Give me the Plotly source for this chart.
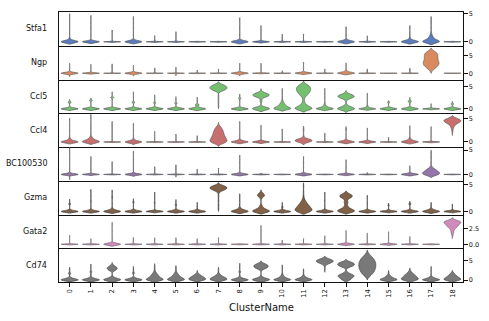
import colorsys
import plotly.graph_objects as go
from plotly.subplots import make_subplots

clusters = [str(i) for i in range(19)]
genes = ["Stfa1", "Ngp", "Ccl5", "Ccl4", "BC100530", "Gzma", "Gata2", "Cd74"]

# Each violin: (kde bandwidth, [(expression value, number of cells), ...])
stfa1 = [
    (.2, [(0, 60), (0.3, 8), (0.7, 2), (1.5, 1), (2.5, 1), (3.5, 1), (4.6, 1)]),
    (.15, [(0, 60), (0.2, 5), (1.2, 1), (2.5, 1), (3.5, 1), (4.4, 1)]),
    (.05, [(0, 60), (0.8, 1), (2.0, 1)]),
    (.18, [(0, 60), (0.3, 6), (1.2, 1), (2.4, 1), (3.4, 1), (4.15, 1)]),
    (.05, [(0, 60), (1.0, 1)]),
    (.05, [(0, 60), (0.8, 1), (1.7, 1)]),
    (.04, [(0, 60)]),
    (.04, [(0, 60)]),
    (.18, [(0, 60), (0.3, 6), (1.3, 1), (2.5, 1), (3.94, 1)]),
    (.1, [(0, 60), (0.2, 3), (1.5, 1), (2.7, 1)]),
    (.05, [(0, 60), (1.26, 1)]),
    (.05, [(0, 60), (1.3, 1)]),
    (.04, [(0, 60)]),
    (.18, [(0, 60), (0.3, 6), (1.2, 1), (2.34, 1)]),
    (.05, [(0, 60), (0.97, 1)]),
    (.04, [(0, 60)]),
    (.2, [(0, 60), (0.3, 10), (0.8, 3), (1.5, 1), (2.5, 1)]),
    (.25, [(0, 40), (0.3, 15), (0.7, 10), (1.1, 5), (1.6, 2), (2.5, 1), (3.4, 1), (4.0, 1)]),
    (.04, [(0, 60)]),
]
ngp = [
    (.2, [(0, 60), (0.3, 6), (-0.3, 4), (-0.6, 1), (1.2, 1), (2.4, 1)]),
    (.12, [(0, 60), (0.3, 4), (1.2, 1), (2.26, 1)]),
    (.05, [(0, 60), (1.2, 1), (2.5, 1)]),
    (.18, [(0, 60), (0.3, 5), (-0.3, 3), (-0.44, 1), (1.0, 1), (1.84, 1)]),
    (.05, [(0, 60), (1.4, 1)]),
    (.06, [(0, 60), (-0.58, 1), (1.58, 1)]),
    (.05, [(0, 60), (0.8, 1)]),
    (.05, [(0, 60), (1.1, 1)]),
    (.18, [(0, 60), (0.3, 5), (-0.3, 3), (-0.44, 1), (1.3, 1), (2.44, 1)]),
    (.08, [(0, 60), (0.2, 2), (1.3, 1), (2.64, 1)]),
    (.05, [(0, 60), (0.6, 1)]),
    (.18, [(0, 60), (0.3, 6), (1.5, 1), (2.74, 1)]),
    (.05, [(0, 60), (1.1, 1)]),
    (.22, [(0, 50), (0.3, 10), (0.7, 4), (1.5, 1), (2.46, 1)]),
    (.05, [(0, 60), (1.1, 1)]),
    (.04, [(0, 60)]),
    (.05, [(0, 60), (0.2, 2), (1.3, 1)]),
    (.4, [(0.8, 2), (1.3, 5), (1.8, 8), (2.3, 10), (2.8, 11), (3.3, 10), (3.8, 9), (4.3, 9),
          (4.8, 9), (5.3, 9), (5.8, 7), (6.2, 3)]),
    (.04, [(0, 60)]),
]
ccl5 = [
    (.18, [(0, 60), (0.3, 6), (1.5, 10), (1.84, 1)]),
    (.18, [(0, 60), (0.3, 6), (1.9, 9), (2.14, 1)]),
    (.18, [(0, 60), (0.3, 6), (1.0, 1), (2.6, 11), (3.54, 1)]),
    (.18, [(0, 60), (0.3, 6), (1.5, 9), (2.5, 1), (3.54, 1)]),
    (.18, [(0, 60), (0.3, 8), (1.4, 7), (2.3, 1), (2.84, 1)]),
    (.18, [(0, 60), (0.3, 6), (1.3, 8), (2.44, 1)]),
    (.2, [(0, 60), (0.3, 6), (0.9, 14), (1.8, 1), (2.3, 1)]),
    (.3, [(0.6, 1), (1.4, 1), (2.2, 1), (3.0, 1), (4.2, 10), (4.6, 15), (5.0, 15), (5.4, 10), (5.6, 2)]),
    (.18, [(0, 60), (0.3, 6), (1.0, 1), (2.4, 8), (3.04, 1)]),
    (.3, [(0, 30), (0.3, 8), (1.6, 2), (2.0, 2), (2.7, 8), (3.0, 16), (3.3, 16), (3.6, 8), (4.0, 1)]),
    (.25, [(0, 30), (0.3, 15), (0.6, 10), (0.9, 7), (1.2, 5), (1.5, 3), (1.9, 2), (2.5, 1), (3.5, 1), (4.2, 1)]),
    (.35, [(0, 25), (0.4, 12), (0.8, 6), (1.2, 3), (1.6, 2), (2.2, 2), (2.8, 4), (3.2, 7), (3.6, 10),
           (4.0, 12), (4.4, 13), (4.8, 13), (5.2, 11), (5.6, 6)]),
    (.2, [(0, 40), (0.25, 12), (0.5, 6), (0.8, 3), (1.1, 2), (1.5, 1), (2.5, 1), (3.5, 1), (4.3, 1)]),
    (.3, [(-0.2, 5), (0, 25), (0.4, 10), (0.8, 3), (1.7, 1), (2.4, 8), (2.7, 15), (3.0, 15), (3.3, 8), (3.6, 1)]),
    (.15, [(0, 60), (0.3, 8), (0.6, 4), (0.9, 2), (1.5, 1), (2.5, 1), (3.3, 1)]),
    (.18, [(0, 60), (0.3, 6), (1.5, 7)]),
    (.2, [(0, 60), (0.3, 6), (1.0, 1), (1.7, 12), (2.2, 1)]),
    (.1, [(0, 60), (0.2, 4), (0.6, 1), (1.0, 1)]),
    (.18, [(0, 60), (0.3, 6), (1.1, 8), (1.34, 1)]),
]
ccl4 = [
    (.2, [(0, 50), (0.3, 10), (0.6, 5), (0.9, 2), (1.5, 1), (2.5, 1), (3.5, 1), (4.7, 1)]),
    (.25, [(0, 40), (0.3, 15), (0.6, 8), (0.9, 4), (1.2, 2), (2.0, 1), (3.0, 1), (4.0, 1), (5.4, 1)]),
    (.05, [(0, 60), (1.0, 1), (2.5, 1), (4.3, 1)]),
    (.2, [(0, 50), (0.3, 8), (-0.2, 5), (0.7, 3), (1.5, 1), (2.5, 1), (3.6, 1)]),
    (.05, [(0, 60), (1.0, 1), (2.2, 1)]),
    (.05, [(0, 60), (1.6, 1)]),
    (.05, [(0, 60), (1.25, 1)]),
    (.3, [(-0.3, 8), (0, 14), (0.3, 14), (0.6, 12), (0.9, 11), (1.2, 10), (1.5, 9), (1.8, 8),
          (2.1, 8), (2.4, 7), (2.7, 6), (3.0, 5), (3.3, 3), (3.6, 1)]),
    (.18, [(0, 50), (0.3, 8), (0.6, 3), (1.5, 1), (2.8, 1), (4.04, 1)]),
    (.15, [(0, 60), (0.3, 6), (1.2, 1), (2.4, 1), (3.3, 1)]),
    (.05, [(0, 60), (1.2, 1), (2.7, 1)]),
    (.25, [(-0.1, 4), (0.1, 10), (0.3, 14), (0.5, 10), (0.7, 4), (0.9, 1), (1.5, 1), (2.4, 1), (2.9, 1)]),
    (.05, [(0, 60), (1.0, 1), (1.8, 1)]),
    (.18, [(0, 55), (0.3, 8), (0.6, 3), (1.5, 1), (2.7, 3), (2.94, 1)]),
    (.15, [(0, 60), (0.3, 5), (1.5, 1), (2.7, 1)]),
    (.05, [(0, 60), (0.9, 1)]),
    (.2, [(0, 50), (0.3, 10), (0.6, 5), (0.9, 2), (2.0, 1), (3.1, 1)]),
    (.08, [(0, 60), (0.2, 3), (1.5, 1), (3.14, 1)]),
    (.35, [(2.1, 1), (2.6, 1), (3.0, 2), (3.4, 3), (3.8, 5), (4.1, 8), (4.4, 12), (4.7, 13), (4.9, 8)]),
]
bc100530 = [
    (.15, [(0, 60), (0.3, 5), (-0.8, 1), (1.5, 1), (3.0, 1), (4.5, 1), (5.3, 1)]),
    (.1, [(0, 60), (0.2, 4), (1.5, 1), (3.5, 1)]),
    (.05, [(0, 60), (1.3, 1), (2.55, 1)]),
    (.15, [(0, 60), (0.3, 5), (-0.1, 2), (1.5, 1), (3.0, 1), (4.5, 1)]),
    (.05, [(0, 60), (1.5, 1)]),
    (.05, [(0, 60), (-0.45, 1), (1.9, 1)]),
    (.05, [(0, 60), (1.0, 1)]),
    (.05, [(0, 60), (1.2, 1)]),
    (.15, [(0, 60), (0.3, 5), (1.5, 1), (2.5, 1), (3.7, 1)]),
    (.05, [(0, 60), (0.2, 1)]),
    (.04, [(0, 60)]),
    (.15, [(0, 60), (0.3, 5), (1.5, 1), (2.5, 1), (3.4, 1)]),
    (.04, [(0, 60)]),
    (.12, [(0, 60), (0.3, 4), (1.5, 1), (2.8, 1)]),
    (.05, [(0, 60), (0.3, 1)]),
    (.04, [(0, 60)]),
    (.15, [(0, 60), (0.3, 5), (1.0, 1), (1.5, 1)]),
    (.3, [(0, 20), (0.3, 15), (0.6, 12), (0.9, 9), (1.2, 5), (1.5, 2), (2.5, 1), (3.5, 1), (4.4, 1)]),
    (.04, [(0, 60)]),
]
gzma = [
    (.15, [(0, 60), (0.3, 6), (1.4, 6), (2.0, 1)]),
    (.15, [(0, 60), (0.3, 6), (1.0, 1), (1.9, 3), (3.0, 1), (3.8, 1)]),
    (.18, [(0, 60), (0.3, 10), (0.6, 3), (1.5, 1), (2.65, 3), (3.64, 1)]),
    (.15, [(0, 60), (0.3, 6), (1.7, 4), (2.05, 1)]),
    (.12, [(0, 60), (0.2, 4), (1.6, 3), (2.5, 1), (3.36, 1)]),
    (.15, [(0, 60), (0.3, 6), (1.2, 5), (1.9, 1)]),
    (.15, [(0, 60), (0.3, 6), (0.8, 1), (1.4, 1)]),
    (.25, [(0.5, 1), (1.2, 1), (2.0, 1), (2.8, 1), (3.6, 2), (4.0, 10), (4.3, 14), (4.6, 12), (4.8, 4)]),
    (.2, [(0, 50), (0.3, 12), (0.6, 5), (1.2, 1), (2.2, 1), (2.9, 1)]),
    (.25, [(0, 30), (0.3, 12), (0.6, 6), (0.9, 3), (1.2, 2), (2.7, 6), (3.0, 9), (3.3, 6), (3.5, 1)]),
    (.15, [(0, 60), (0.3, 6), (0.8, 5), (1.4, 1)]),
    (.3, [(0, 20), (0.3, 18), (0.6, 15), (0.9, 12), (1.2, 10), (1.5, 7), (1.8, 5), (2.1, 3), (2.5, 2),
          (3.0, 1), (3.7, 1), (4.7, 1)]),
    (.15, [(0, 60), (0.3, 6), (1.0, 1), (2.0, 2), (3.3, 1)]),
    (.25, [(0, 22), (0.3, 12), (0.6, 6), (0.9, 3), (1.2, 2), (1.5, 2), (1.8, 5), (2.4, 5), (2.7, 12),
           (3.0, 12), (3.3, 5)]),
    (.15, [(0, 60), (0.3, 6), (1.5, 1), (2.7, 1)]),
    (.12, [(0, 60), (0.3, 5), (1.1, 4), (1.3, 1)]),
    (.15, [(0, 60), (0.3, 6), (1.4, 6), (1.6, 1)]),
    (.18, [(0, 55), (0.3, 10), (0.6, 3), (1.0, 1), (1.34, 1)]),
    (.12, [(0, 60), (0.3, 4), (0.8, 1), (1.16, 1)]),
]
gata2 = [
    (.05, [(0, 60), (1.35, 1)]),
    (.05, [(0, 60), (0.8, 1)]),
    (.15, [(0, 60), (0.2, 6), (1.0, 1), (2.2, 1), (3.2, 1)]),
    (.05, [(0, 60), (1.0, 1)]),
    (.05, [(0, 60), (0.95, 1)]),
    (.05, [(0, 60), (0.95, 1)]),
    (.05, [(0, 60), (0.8, 1)]),
    (.05, [(0, 60), (0.95, 1)]),
    (.04, [(0, 60)]),
    (.05, [(0, 60), (1.5, 1), (2.9, 1)]),
    (.05, [(0, 60), (0.57, 1)]),
    (.05, [(0, 60), (0.83, 1)]),
    (.05, [(0, 60), (1.25, 1)]),
    (.1, [(0, 60), (0.2, 4), (1.2, 1), (2.0, 1)]),
    (.05, [(0, 60), (1.7, 1)]),
    (.08, [(0, 60), (0.2, 3), (1.0, 1), (1.84, 1)]),
    (.05, [(0, 60), (1.15, 1)]),
    (.04, [(0, 60)]),
    (.2, [(1.3, 1), (1.7, 2), (1.9, 2), (2.2, 3), (2.5, 5), (2.8, 10), (3.1, 13), (3.4, 14), (3.6, 13), (3.8, 6)]),
]
cd74 = [
    (.25, [(0, 45), (0.3, 12), (0.6, 4), (1.7, 6), (2.5, 1), (2.8, 1)]),
    (.25, [(0, 45), (0.3, 12), (0.6, 4), (1.2, 2), (2.1, 5), (3.0, 1), (3.6, 1)]),
    (.3, [(0, 35), (0.3, 12), (0.6, 4), (0.9, 2), (2.4, 6), (2.7, 10), (3.0, 12), (3.3, 10), (3.6, 6), (3.9, 1)]),
    (.25, [(0, 45), (0.3, 12), (0.6, 4), (1.8, 5), (2.5, 1), (3.0, 1)]),
    (.3, [(0, 25), (0.3, 15), (0.6, 10), (0.9, 8), (1.2, 7), (1.5, 5), (1.8, 3), (2.1, 2), (2.5, 1), (3.0, 1), (3.6, 1)]),
    (.3, [(0, 25), (0.3, 15), (0.6, 10), (0.9, 8), (1.2, 6), (1.5, 4), (1.8, 3), (2.2, 1), (2.6, 1), (3.1, 1)]),
    (.3, [(0, 20), (0.3, 18), (0.6, 14), (0.9, 10), (1.2, 7), (1.5, 4), (1.85, 1)]),
    (.3, [(0, 22), (0.3, 18), (0.6, 13), (0.9, 9), (1.2, 5), (1.5, 3), (2.0, 1), (2.7, 1)]),
    (.25, [(0, 45), (0.3, 12), (0.6, 5), (1.2, 2), (2.1, 5), (3.0, 1), (3.8, 1)]),
    (.3, [(0, 30), (0.3, 12), (0.6, 4), (0.9, 2), (2.8, 6), (3.1, 12), (3.4, 14), (3.7, 14), (4.0, 12), (4.3, 5)]),
    (.25, [(0, 35), (0.3, 15), (0.6, 8), (0.9, 5), (1.2, 3), (1.6, 2), (2.2, 1), (3.0, 1), (3.4, 1)]),
    (.25, [(0, 35), (0.3, 15), (0.6, 8), (0.9, 4), (1.2, 2), (1.8, 1), (2.4, 1)]),
    (.3, [(2.6, 1), (3.2, 1), (3.9, 3), (4.3, 8), (4.6, 13), (4.9, 15), (5.2, 12), (5.5, 5)]),
    (.3, [(0, 10), (0.4, 12), (0.8, 14), (1.1, 15), (1.4, 12), (1.8, 6), (2.5, 1), (3.3, 6), (3.6, 12),
          (3.9, 15), (4.2, 15), (4.5, 10), (4.7, 4)]),
    (.4, [(0.8, 3), (1.2, 6), (1.6, 8), (2.0, 10), (2.4, 11), (2.8, 12), (3.2, 13), (3.6, 13), (4.0, 13),
          (4.4, 13), (4.8, 12), (5.2, 11), (5.6, 9), (6.0, 7), (6.4, 4), (6.8, 2), (6.9, 1)]),
    (.25, [(0, 30), (0.3, 15), (0.6, 10), (0.9, 6), (1.2, 3), (1.6, 1), (1.95, 1)]),
    (.3, [(0, 20), (0.3, 16), (0.6, 14), (0.9, 12), (1.2, 10), (1.5, 7), (1.8, 5), (2.1, 3), (2.5, 1)]),
    (.25, [(0, 40), (0.3, 14), (0.6, 6), (0.9, 3), (1.5, 1), (2.3, 1), (3.0, 1)]),
    (.3, [(0, 22), (0.3, 16), (0.6, 12), (0.9, 9), (1.2, 7), (1.5, 5), (1.85, 3)]),
]
gene_data = [stfa1, ngp, ccl5, ccl4, bc100530, gzma, gata2, cd74]

# y-axis ranges and ticks per row
y_ranges = [[-0.7, 5.3], [-1.75, 7.65], [-1.0, 6.7], [-1.07, 6.14],
            [-1.3, 5.65], [-0.56, 5.69], [-0.63, 4.73], [-0.51, 8.16]]
y_ticks = [[0, 5], [0, 5], [0, 5], [0, 5], [0, 5], [0, 5], [0.0, 2.5], [0, 5]]
y_ticktext = [["0", "5"]] * 6 + [["0.0", "2.5"], ["0", "5"]]

palette = ["#4878d0", "#ee854a", "#6acc64", "#d65f5f", "#956cb4", "#8c613c", "#dc7ec0", "#797979"]

# style: violin width (data units), with one narrower violin
VIOLIN_WIDTH = 0.8
width_override = {(1, 17): 0.74}


def desat(hexcol, f=0.75):
    r, g, b = (int(hexcol[i:i + 2], 16) / 255 for i in (1, 3, 5))
    h, l, s = colorsys.rgb_to_hls(r, g, b)
    r, g, b = colorsys.hls_to_rgb(h, l, s * f)
    return "#%02x%02x%02x" % (round(r * 255), round(g * 255), round(b * 255)), l


fig = make_subplots(rows=8, cols=1, shared_xaxes=True, vertical_spacing=0)

for gi, (gene, rows) in enumerate(zip(genes, gene_data)):
    fill, lum = desat(palette[gi])
    g = int(round(lum * 0.6 * 255))
    edge = "#%02x%02x%02x" % (g, g, g)
    for ci, (bw, pairs) in enumerate(rows):
        samples = [v for v, n in pairs for _ in range(n)]
        fig.add_trace(go.Violin(
            x=[clusters[ci]] * len(samples), y=samples,
            bandwidth=bw, spanmode="soft", scalemode="width",
            width=width_override.get((gi, ci), VIOLIN_WIDTH),
            fillcolor=fill, opacity=1, line=dict(color=edge, width=0.7),
            points=False, box_visible=False, meanline_visible=False,
            hoverinfo="skip", showlegend=False,
        ), row=gi + 1, col=1)

font = "DejaVu Sans"
ink = "#111111"
for gi in range(8):
    fig.update_yaxes(
        row=gi + 1, col=1, range=y_ranges[gi], side="right",
        tickmode="array", tickvals=y_ticks[gi], ticktext=y_ticktext[gi],
        ticks="outside", ticklen=3.5, tickwidth=0.8, tickcolor=ink,
        tickfont=dict(size=6.5, color=ink, family=font),
        showline=True, mirror=True, linecolor=ink, linewidth=1,
        showgrid=False, zeroline=False, fixedrange=True,
    )
    fig.update_xaxes(
        row=gi + 1, col=1, type="category", categoryorder="array", categoryarray=clusters,
        range=[-0.5, 18.5], showline=True, mirror=(gi == 0), linecolor=ink, linewidth=1,
        showgrid=False, zeroline=False,
        ticks="outside" if gi == 7 else "", ticklen=3.5, tickwidth=0.8, tickcolor=ink,
        showticklabels=(gi == 7), tickangle=-90,
        tickfont=dict(size=6.8, color=ink, family=font),
    )
    yref = "y domain" if gi == 0 else f"y{gi + 1} domain"
    fig.add_annotation(text=genes[gi], xref="paper", x=0, xanchor="right", xshift=-10,
                       yref=yref, y=0.5, yanchor="middle", showarrow=False,
                       font=dict(size=8, color=ink, family=font))

fig.add_annotation(text="ClusterName", xref="paper", x=0.5, xanchor="center",
                   yref="paper", y=-0.0946, yanchor="middle", showarrow=False,
                   font=dict(size=10, color=ink, family=font))

fig.update_layout(
    width=489, height=321, margin=dict(l=59, r=25, t=10, b=39),
    paper_bgcolor="white", plot_bgcolor="white",
    violinmode="overlay", violingap=0, showlegend=False,
    font=dict(family=font),
)
fig.write_html("out.html")
